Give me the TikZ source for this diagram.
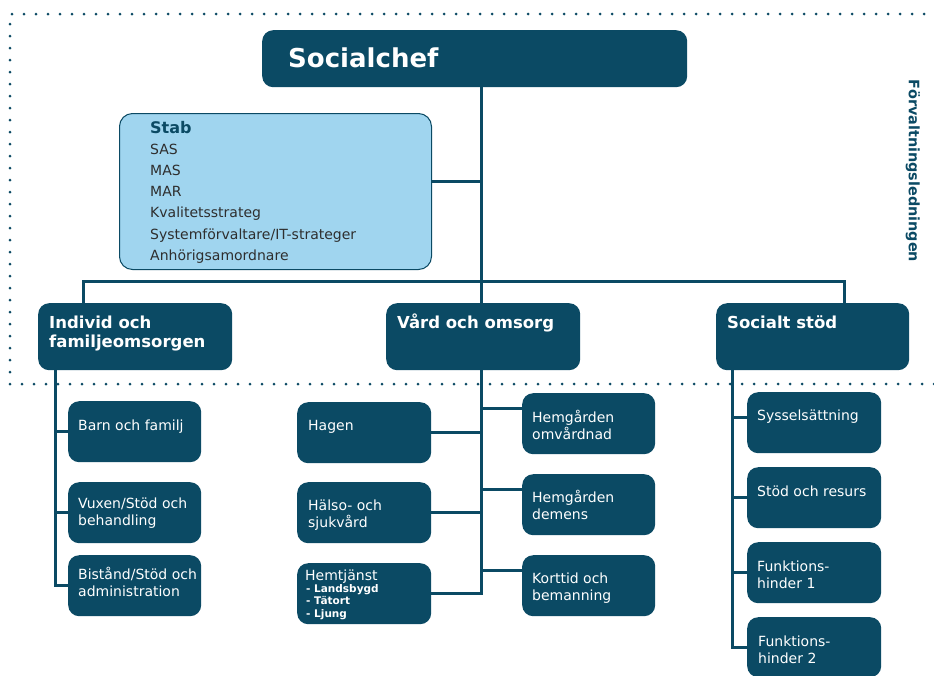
\documentclass[tikz,border=0pt]{standalone}
\usepackage{fontspec}
\setmainfont{DejaVu Sans}
\definecolor{dk}{HTML}{0B4A64}
\definecolor{stabfill}{HTML}{A0D5EF}
\definecolor{stabtext}{HTML}{2E2E2E}
\newcommand{\ml}[1]{\begin{tabular}[t]{@{}l@{}}#1\end{tabular}}
\tikzset{
  dbox/.style={fill=dk, rounded corners=11pt, anchor=north west, inner sep=0pt},
  conn/.style={draw=dk, line width=3pt},
  dotline/.style={draw=dk, line width=3pt, line cap=round, dash pattern=on 0pt off 12pt},
  ctext/.style={text=white, inner sep=0pt, anchor=base west, font=\fontsize{14}{17}\selectfont},
  htext/.style={text=white, inner sep=0pt, anchor=base west, font=\bfseries\fontsize{16.5}{19}\selectfont},
  smtext/.style={text=white, inner sep=0pt, anchor=base west, font=\bfseries\fontsize{10.5}{12.5}\selectfont},
}
\begin{document}
\begin{tikzpicture}[x=1pt,y=-1pt]
\useasboundingbox (0,0) rectangle (934,675);
% dotted frame
\coordinate (f1) at (10,384);
\coordinate (f2) at (10,14);
\coordinate (f3) at (936,14);
\coordinate (f4) at (936,384);
\draw[dotline] (f3) -- (f2) -- (f1) -- (f4);

% top
\node[dbox, minimum width=425pt, minimum height=57pt] (chef) at (262,30) {};
\node[text=white, inner sep=0pt, anchor=base west, font=\bfseries\fontsize{26}{30}\selectfont] (chef-t) at (288,67) {Socialchef};

\node[fill=stabfill, draw=dk, line width=1pt, rounded corners=13pt, anchor=north west, minimum width=312pt, minimum height=156pt, inner sep=0pt] (stab) at (119,113) {};
\node[anchor=base west, inner sep=0pt, text=stabtext, font=\fontsize{14}{21.2}\selectfont] (stab-t) at (150,133)
  {\ml{{\color{dk}\bfseries\fontsize{16}{19}\selectfont Stab}\\SAS\\MAS\\MAR\\Kvalitetsstrateg\\Systemförvaltare/IT-strateger\\Anhörigsamordnare}};

\node[rotate=-90, text=dk, inner sep=0pt, font=\bfseries\fontsize{14.4}{17}\selectfont] (forv) at (913,171) {Förvaltningsledningen};

% level 2
\node[dbox, minimum width=194pt, minimum height=67pt] (indiv) at (38,303) {};
\node[htext] (indiv-t) at (49,328) {\ml{Individ och\\familjeomsorgen}};
\node[dbox, minimum width=194pt, minimum height=67pt] (vard) at (386,303) {};
\node[htext] (vard-t) at (397,328) {Vård och omsorg};
\node[dbox, minimum width=193pt, minimum height=67pt] (soc) at (716,303) {};
\node[htext] (soc-t) at (727,328) {Socialt stöd};

% Individ children
\node[dbox, minimum width=133pt, minimum height=61pt] (barn) at (68,401) {};
\node[ctext] (barn-t) at (78,430) {Barn och familj};
\node[dbox, minimum width=133pt, minimum height=61pt] (vuxen) at (68,482) {};
\node[ctext] (vuxen-t) at (78,508) {\ml{Vuxen/Stöd och\\behandling}};
\node[dbox, minimum width=133pt, minimum height=61pt] (bist) at (68,555) {};
\node[ctext] (bist-t) at (78,579) {\ml{Bistånd/Stöd och\\administration}};

% Vard children left
\node[dbox, minimum width=134pt, minimum height=61pt] (hagen) at (297,402) {};
\node[ctext] (hagen-t) at (308,430) {Hagen};
\node[dbox, minimum width=134pt, minimum height=61pt] (halso) at (297,482) {};
\node[ctext] (halso-t) at (308,510) {\ml{Hälso- och\\sjukvård}};
\node[dbox, minimum width=134pt, minimum height=61pt] (hemtj) at (297,563) {};
\node[ctext] (hemtj-t) at (305,580) {Hemtjänst};
\node[smtext] (hemtj-s1) at (306,592) {- Landsbygd};
\node[smtext] (hemtj-s2) at (306,604.5) {- Tätort};
\node[smtext] (hemtj-s3) at (306,617) {- Ljung};

% Vard children right
\node[dbox, minimum width=133pt, minimum height=61pt] (omv) at (522,393) {};
\node[ctext] (omv-t) at (532,422) {\ml{Hemgården\\omvårdnad}};
\node[dbox, minimum width=133pt, minimum height=61pt] (dem) at (522,474) {};
\node[ctext] (dem-t) at (532,502) {\ml{Hemgården\\demens}};
\node[dbox, minimum width=133pt, minimum height=61pt] (kort) at (522,555) {};
\node[ctext] (kort-t) at (532,583) {\ml{Korttid och\\bemanning}};

% Socialt stod children
\node[dbox, minimum width=134pt, minimum height=61pt] (syss) at (747,392) {};
\node[ctext] (syss-t) at (757,420) {Sysselsättning};
\node[dbox, minimum width=134pt, minimum height=61pt] (stod) at (747,467) {};
\node[ctext] (stod-t) at (757,496) {Stöd och resurs};
\node[dbox, minimum width=134pt, minimum height=61pt] (fh1) at (747,542) {};
\node[ctext] (fh1-t) at (757,571) {\ml{Funktions-\\hinder 1}};
\node[dbox, minimum width=134pt, minimum height=60pt] (fh2) at (747,617) {};
\node[ctext] (fh2-t) at (758,646) {\ml{Funktions-\\hinder 2}};

% connectors
\coordinate (bar) at (481,281);
\coordinate (bl) at (83,281);
\coordinate (br) at (844,281);
\coordinate (sp1) at (55,0);
\coordinate (sp3) at (732,0);
\draw[conn] (chef.south -| bar) -- (bar);
\coordinate (stab-c) at ([yshift=10pt]stab.east);
\draw[conn] (stab-c) -- (stab-c -| bar);
\draw[conn] (indiv.north -| bl) -- (bl) -- (br) -- (soc.north -| br);
\draw[conn] (bar) -- (vard.north -| bar);

\draw[conn] (indiv.south -| sp1) -- (bist.west -| sp1) -- (bist.west);
\draw[conn] (barn.west -| sp1) -- (barn.west);
\draw[conn] (vuxen.west -| sp1) -- (vuxen.west);

\draw[conn] (vard.south -| bar) -- (hemtj.east -| bar) -- (hemtj.east);
\draw[conn] (hagen.east) -- (hagen.east -| bar);
\draw[conn] (halso.east) -- (halso.east -| bar);
\coordinate (omv-c) at ([yshift=15pt]omv.west);
\coordinate (dem-c) at ([yshift=15pt]dem.west);
\coordinate (kort-c) at ([yshift=15pt]kort.west);
\draw[conn] (omv-c -| bar) -- (omv-c);
\draw[conn] (dem-c -| bar) -- (dem-c);
\draw[conn] (kort-c -| bar) -- (kort-c);

\coordinate (syss-c) at ([yshift=5pt]syss.west);
\draw[conn] (soc.south -| sp3) -- (fh2.west -| sp3) -- (fh2.west);
\draw[conn] (syss-c -| sp3) -- (syss-c);
\draw[conn] (stod.west -| sp3) -- (stod.west);
\draw[conn] (fh1.west -| sp3) -- (fh1.west);
\end{tikzpicture}
\end{document}
